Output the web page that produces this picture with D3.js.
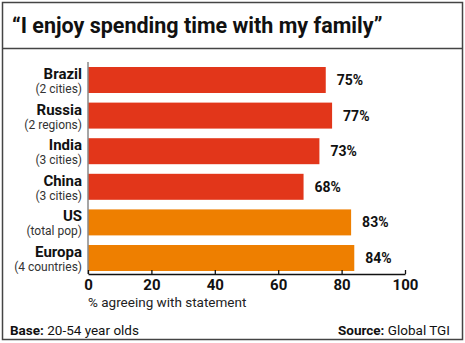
<!DOCTYPE html>
<html>
<head>
<meta charset="utf-8">
<script src="https://cdn.jsdelivr.net/npm/d3@7"></script>
<style>
  body { margin: 0; background: #fff; }
  svg { font-family: Roboto, "DejaVu Sans", sans-serif; }
</style>
</head>
<body>
<div id="chart"></div>
<script>
var names = ["Brazil", "Russia", "India", "China", "US", "Europa"];
var subs = ["(2 cities)", "(2 regions)", "(3 cities)", "(3 cities)", "(total pop)", "(4 countries)"];
var values = [75, 77, 73, 68, 83, 84];
var groups = ["bric", "bric", "bric", "bric", "west", "west"];
var ticks = [0, 20, 40, 60, 80, 100];

var width = 465, height = 343;
var colour = { bric: "#e2361a", west: "#ee7f00" };

var svg = d3.select("#chart").append("svg")
  .attr("width", width)
  .attr("height", height);

// frame and title box
svg.append("rect").attr("x", 2.5).attr("y", 2.5).attr("width", 460).attr("height", 337)
  .style("fill", "none").style("stroke", "#444").style("stroke-width", 1.5);
svg.append("line").attr("x1", 2.5).attr("x2", 462.5).attr("y1", 48.5).attr("y2", 48.5)
  .style("stroke", "#444").style("stroke-width", 1.5);
svg.append("text").attr("x", 12).attr("y", 33)
  .style("font-size", "21.5px").style("font-weight", "bold").style("fill", "#111")
  .text("\u201cI enjoy spending time with my family\u201d");

var x = d3.scaleLinear().domain([0, 100]).range([88, 405]);
var y = d3.scaleBand().domain(names).range([62.2, 275.8]).paddingInner(0.27).paddingOuter(0.135);

// bars
svg.selectAll(".bar").data(names).enter().append("rect")
  .attr("class", "bar")
  .attr("x", x(0))
  .attr("y", function(d) { return y(d); })
  .attr("width", function(d, i) { return x(values[i]) - x(0); })
  .attr("height", y.bandwidth())
  .style("fill", function(d, i) { return colour[groups[i]]; });

// value labels
svg.selectAll(".val").data(names).enter().append("text")
  .attr("x", function(d, i) { return x(values[i]) + 11; })
  .attr("y", function(d) { return y(d) + y.bandwidth() / 2 + 5; })
  .style("font-size", "14px").style("font-weight", "bold").style("fill", "#111")
  .text(function(d, i) { return values[i] + "%"; });

// category labels
svg.selectAll(".name").data(names).enter().append("text")
  .attr("x", 82).attr("y", function(d) { return y(d) + 12; })
  .attr("text-anchor", "end")
  .style("font-size", "15px").style("font-weight", "bold").style("fill", "#111")
  .text(function(d) { return d; });
svg.selectAll(".sub").data(names).enter().append("text")
  .attr("x", 82).attr("y", function(d) { return y(d) + 26; })
  .attr("text-anchor", "end")
  .style("font-size", "12px").style("fill", "#333")
  .text(function(d, i) { return subs[i]; });

// y axis line
svg.append("line").attr("x1", x(0)).attr("x2", x(0)).attr("y1", 62).attr("y2", 274)
  .style("stroke", "#888").style("stroke-width", 1.5);

// x axis
var xAxis = svg.append("g").attr("transform", "translate(0,274)")
  .call(d3.axisBottom(x).tickValues(ticks).tickSizeInner(-4).tickSizeOuter(0).tickPadding(6));
xAxis.select(".domain").style("stroke", "#111").style("stroke-width", 1.3);
xAxis.selectAll(".tick line").style("stroke", "#111").style("stroke-width", 1.3);
xAxis.selectAll(".tick text").attr("y", 5).style("font-size", "15px").style("font-weight", "bold")
  .style("font-family", "Roboto, sans-serif").style("fill", "#111");

svg.append("text").attr("x", 88).attr("y", 307)
  .style("font-size", "13.5px").style("fill", "#222")
  .text("% agreeing with statement");

// footer
var base = svg.append("text").attr("x", 10).attr("y", 335).style("font-size", "13.5px").style("fill", "#111");
base.append("tspan").style("font-weight", "bold").text("Base: ");
base.append("tspan").text("20-54 year olds");
var src = svg.append("text").attr("x", 450).attr("y", 335).attr("text-anchor", "end").style("font-size", "13.5px").style("fill", "#111");
src.append("tspan").style("font-weight", "bold").text("Source: ");
src.append("tspan").text("Global TGI");
</script>
</body>
</html>
